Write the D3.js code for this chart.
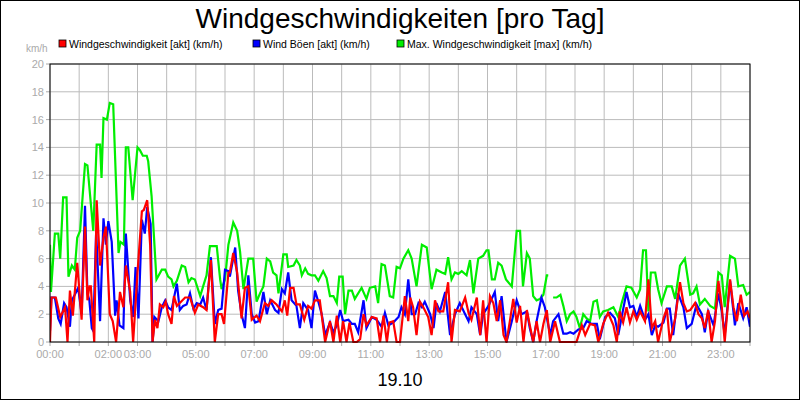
<!DOCTYPE html>
<html><head><meta charset="utf-8">
<script src="https://cdn.jsdelivr.net/npm/d3@7"></script>
<style>body{margin:0;background:#fff}svg{display:block;font-family:"Liberation Sans",Arial,sans-serif}</style>
</head><body><svg id="c" width="800" height="400"></svg>
<script>
const title = "Windgeschwindigkeiten [pro Tag]";
const dateLabel = "19.10";
const yTicks = [0,2,4,6,8,10,12,14,16,18,20];
const xTickLabels = ["00:00","02:00","03:00","05:00","07:00","09:00","11:00","13:00","15:00","17:00","19:00","21:00","23:00"];
const seriesNames = ["Windgeschwindigkeit [akt] (km/h)","Wind Böen [akt] (km/h)","Max. Windgeschwindigkeit [max] (km/h)"];
// minutes since 00:00
const redT = [0,3,12,21,31,36,41,47,56,65,72,77,81,84,91,96,103,110,115,123,129,136,144,151,156,165,171,180,189,193,200,206,211,216,221,226,233,238,243,250,255,261,267,278,288,298,305,315,322,331,339,346,353,358,367,370,377,385,394,401,408,415,425,432,442,449,456,466,477,483,488,494,501,507,514,523,531,538,545,555,566,576,583,590,597,603,610,616,624,631,638,645,651,662,672,679,686,693,698,706,713,720,730,737,741,747,754,761,768,778,785,792,799,809,819,826,833,843,854,861,867,878,885,891,898,905,912,919,926,933,939,946,953,960,967,974,981,987,994,1001,1008,1015,1022,1029,1039,1049,1056,1083,1094,1101,1111,1121,1128,1138,1148,1159,1166,1172,1179,1186,1193,1200,1207,1214,1224,1231,1238,1245,1251,1262,1269,1275,1286,1296,1303,1310,1317,1327,1334,1341,1347,1354,1361,1368,1375,1382,1388,1399,1406,1413,1421,1428,1435,1440];
const redV = [0,3.2,3.2,1.8,2.5,0,3.7,1.9,5.7,1.6,8.3,3,4,4,0,10.2,5.5,7.5,8.3,2,1.5,0,3.6,2.5,5.5,3.6,0,5,9.4,9.5,10.2,7,0,1.6,1,2.7,2.5,2.9,2,1.3,3.3,2.6,2.8,3.2,3.2,2.1,2.7,2.5,2.3,5.9,0,2,2,1.3,5,5,6.4,5,1.7,3.9,4,1.6,1.9,1.5,2.8,2.6,3,2.7,2.2,3,1.9,3.9,3.9,2.7,2.7,1.6,2.6,2.4,3,3,0,1.5,0,1.9,0,1.5,0,1.4,0,0,0.2,2,1.2,1.8,1.7,0,1.9,0,1.4,1.5,0,0,3.3,1.5,3.2,2.5,0.5,2.9,2.5,1.8,0.5,3,2.2,2.2,4.3,0,2.3,2.2,3.2,2.1,1.6,3.2,0.5,3,0,3.3,2.8,1.5,3,0.5,0,1.5,3.1,1.4,2.6,0,2.3,1.2,0,1.5,0,1.3,2.3,0,1.5,0,0,0,1.2,0.5,1.3,1.2,0,1.3,2.1,1.2,0,2.2,1.4,2.5,1.4,2.2,1.6,2.2,1.5,4.5,1,1.5,0,1.7,2.4,0,1.7,4.3,2.8,2.2,2.3,2.8,2,1.7,1,2.3,0,1.5,4.4,2.5,0,4.5,2.5,1.5,3.4,1.9,2.2,1.7];
const blueT = [0,3,10,17,22,29,34,41,45,51,58,65,72,77,81,86,89,95,103,110,115,120,127,134,137,143,151,156,165,171,176,182,189,195,200,207,211,215,223,230,237,243,250,261,267,274,281,288,295,302,309,315,322,331,339,346,353,360,367,370,381,387,394,401,408,415,422,429,439,446,453,463,470,477,483,490,497,507,514,521,531,538,545,552,559,566,576,583,590,597,603,614,621,627,634,645,651,662,672,682,689,696,706,717,723,730,737,744,751,758,765,771,782,789,795,802,813,823,833,843,854,861,867,878,885,891,902,915,922,929,939,950,960,970,981,987,994,1001,1011,1018,1029,1035,1046,1056,1063,1070,1077,1087,1097,1104,1114,1125,1131,1142,1152,1162,1169,1176,1186,1193,1200,1207,1214,1224,1231,1238,1245,1251,1262,1269,1275,1282,1292,1303,1310,1320,1330,1341,1347,1354,1365,1375,1382,1388,1399,1409,1416,1426,1433,1440];
const blueV = [0.8,3.2,3.2,1.7,1.3,2.8,2.5,1.1,3,3.4,3.9,2,9.8,3.5,3,1,0.8,8,1.5,8.9,7,8.7,7.2,1.9,3,1.2,1,7.8,3,1.8,5.4,1.7,8.8,7.8,9.7,8.5,0,1.8,1.5,2.5,3,2.5,2.3,4.2,2.3,2.6,2.7,3.5,2.4,2.8,2.7,3.2,2.3,6.1,1.3,2.3,2.4,5.2,5.1,4.7,6.8,3.7,2,1,4.8,2,1.4,1.5,3.6,2,3,2.3,2.1,3.8,3.5,5,3,2.6,1,2.8,2.3,1,3.7,2.9,2,0.5,1.4,0.7,1.2,2.3,1.5,1.6,1.3,1.3,0.7,3,1,1.8,1.6,1.1,2.1,1.2,1.4,1.8,2.5,2,4.5,2,2,2.8,2.5,2.9,2,1,2.8,2.2,3.6,0.5,2,2.8,2,1.5,2.5,2,0.5,2,2.6,3.6,1.5,3.3,0,1.5,3,2,2.2,1,0,1.5,3.2,2.5,0.5,1.5,2,0.6,0.6,0.7,0.6,0.9,1,1.5,1.3,1.3,0.2,1.8,2.1,1.7,0.5,1.8,3.6,2.5,2.6,1.8,2.6,1.6,2,0.5,1.2,1.1,1.4,2.4,2.4,0.5,3.5,2.5,1,1.3,2.7,2,0.7,2.2,1.2,3.5,2.2,0.5,4.4,1.2,2.8,1.7,2.5,1.1];
const greenT = [0,2,10,17,21,27,34,38,45,51,56,62,72,77,89,96,103,106,110,117,123,130,141,145,152,156,161,170,180,185,191,199,202,209,219,230,237,243,250,254,261,271,278,285,291,298,309,315,322,329,343,350,353,360,367,377,385,391,398,408,418,425,432,439,446,453,459,466,470,480,487,490,501,507,514,518,525,531,538,545,552,562,569,576,583,590,595,602,607,614,621,627,641,651,658,669,675,682,689,699,706,713,720,727,737,744,754,765,775,785,795,806,813,819,826,833,840,847,857,864,871,881,891,898,902,909,915,922,929,938,950,960,967,973,981,987,994,1001,1008,1015,1022,1025,1030,1035,1042,1050,1056,1063,1070,1077,1083,1090,1097,1104,1111,1118,1125,1131,1138,1148,1159,1169,1176,1186,1196,1207,1214,1220,1226,1231,1236,1245,1251,1258,1269,1279,1286,1296,1306,1317,1323,1330,1337,1347,1358,1368,1375,1382,1388,1399,1409,1416,1426,1433,1440];
const greenV = [7,3.6,7.8,7.8,6,10.4,10.4,4.7,5.5,5.2,7.5,8,12.8,12.7,8,14.2,14.2,11.8,16.1,16,17.2,17.1,6.4,7.2,7,14,14,10.2,14,13.8,13.4,13.4,13,10.5,4.5,5.2,5.2,4.7,4.5,4,4.4,5.5,5.4,4.3,4.6,4.5,3.3,4,4.8,6.9,6.9,4.5,3.8,4.5,7,8.6,8,6.5,3.8,6,6,2.9,3.5,4,6,5.8,5,4.8,3.5,6.3,6.3,5.4,5.5,5.9,5.5,4.8,5.3,4.9,4.8,4.8,4.4,5.1,4.6,3.3,3.3,2.8,4.7,4.7,2,3.7,3.7,3.1,3.9,3.1,3.9,4,2.8,5.6,5.5,3.3,3.2,5.4,5.3,6,6.6,6,4,7,6.8,3.8,5.2,5,4.9,6.1,4.5,5,4.9,5.1,4.8,5.9,3.5,6,6.2,6.6,6.6,4.5,4.5,5.7,5.5,4.5,4,8,8,4,6.4,6,3.3,3,3.1,3.4,4.8,4.8,null,3.2,3.2,3.4,2.6,1.5,2,2.2,1.8,1,2,1.7,1.5,2.9,3,1.8,2.2,2.3,2.5,1.8,2.8,4,3.9,3.2,3.8,6.6,6.6,2.2,5,5,3.8,2.8,4,4,3.1,5.5,6,3.4,3.5,4,2.7,3.1,2.6,2.4,5,4.8,2.5,6.2,6,4,4.1,3.4,3.6];
const colors = ["#ff0000","#0000ff","#00ee00"];

const svg = d3.select("#c");
const L=50,R=750,T=64,B=342;
svg.append("rect").attr("x",0.5).attr("y",0.5).attr("width",799).attr("height",399).attr("fill","#fff").attr("stroke","#000");
const x = d3.scaleLinear().domain([0,1440]).range([L,R]);
const y = d3.scaleLinear().domain([0,20]).range([B,T]);
const g = svg.append("g");
// grid
g.selectAll(".hy").data(yTicks).join("line").attr("x1",L).attr("x2",R).attr("y1",d=>y(d)).attr("y2",d=>y(d)).attr("stroke","#bbb");
g.selectAll(".hx").data(d3.range(0,1441,60)).join("line").attr("y1",T).attr("y2",B).attr("x1",d=>x(d)).attr("x2",d=>x(d)).attr("stroke","#bbb");
// y labels
g.selectAll(".yl").data(yTicks).join("text").attr("x",L-6).attr("y",d=>y(d)+4).attr("text-anchor","end").attr("font-size",11).attr("fill","#aaa").text(d=>d);
g.selectAll(".yt").data(yTicks).join("line").attr("x1",L-4).attr("x2",L).attr("y1",d=>y(d)).attr("y2",d=>y(d)).attr("stroke","#aaa");
g.selectAll(".xt").data(d3.range(0,1441,60)).join("line").attr("y1",B).attr("y2",B+4).attr("x1",d=>x(d)).attr("x2",d=>x(d)).attr("stroke","#aaa");
g.selectAll(".xl").data(xTickLabels).join("text").attr("x",d=>x(+d.slice(0,2)*60)).attr("y",B+16).attr("text-anchor","middle").attr("font-size",11).attr("fill","#aaa").text(d=>d);
svg.append("text").attr("x",26).attr("y",52).attr("font-size",10).attr("fill","#aaa").text("km/h");
// lines
const line = d3.line().defined(d=>d[1]!=null).x(d=>x(d[0])).y(d=>y(d[1]));
const series = [[redT,redV],[blueT,blueV],[greenT,greenV]];
const clip = svg.append("clipPath").attr("id","cp").append("rect").attr("x",L).attr("y",T).attr("width",R-L).attr("height",B-T+1);
[2,1,0].forEach(i=>{
  const [t,v]=series[i];
  svg.append("path").datum(t.map((d,j)=>[d,v[j]])).attr("d",line).attr("fill","none").attr("stroke",colors[i]).attr("stroke-width",2.2).attr("clip-path","url(#cp)");
});
svg.append("rect").attr("x",L).attr("y",T).attr("width",R-L).attr("height",B-T).attr("fill","none").attr("stroke","#000");
// title
svg.append("text").attr("x",400).attr("y",28).attr("text-anchor","middle").attr("font-size",28).text(title);
svg.append("text").attr("x",400).attr("y",386).attr("text-anchor","middle").attr("font-size",18).text(dateLabel);
// legend
const lx=[59,253,397];
seriesNames.forEach((n,i)=>{
  svg.append("rect").attr("x",lx[i]).attr("y",40).attr("width",7).attr("height",7).attr("fill",colors[i]).attr("stroke","#000").attr("stroke-width",0.8);
  svg.append("text").attr("x",lx[i]+10).attr("y",47.5).attr("font-size",10.5).text(n);
});
</script></body></html>
